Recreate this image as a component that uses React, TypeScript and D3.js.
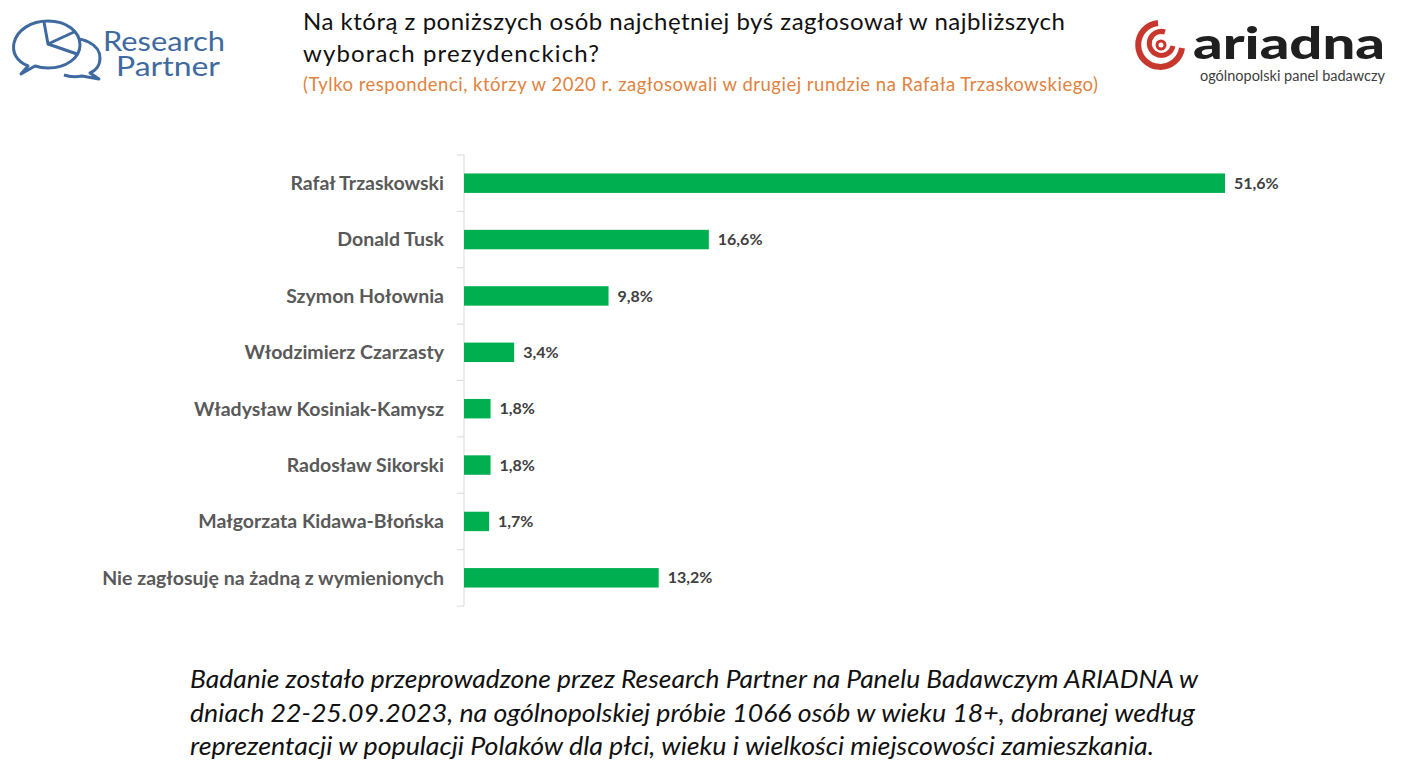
import * as d3 from 'd3';

const candidates = [
  'Rafał Trzaskowski',
  'Donald Tusk',
  'Szymon Hołownia',
  'Włodzimierz Czarzasty',
  'Władysław Kosiniak-Kamysz',
  'Radosław Sikorski',
  'Małgorzata Kidawa-Błońska',
  'Nie zagłosuję na żadną z wymienionych',
];
const shares = [51.6, 16.6, 9.8, 3.4, 1.8, 1.8, 1.7, 13.2];

const titleLines = [
  'Na którą z poniższych osób najchętniej byś zagłosował w najbliższych',
  'wyborach prezydenckich?',
];
const subtitle = '(Tylko respondenci, którzy w 2020 r. zagłosowali w drugiej rundzie na Rafała Trzaskowskiego)';
const footerLines = [
  'Badanie zostało przeprowadzone przez Research Partner na Panelu Badawczym ARIADNA w',
  'dniach 22-25.09.2023, na ogólnopolskiej próbie 1066 osób w wieku 18+, dobranej według',
  'reprezentacji w populacji Polaków dla płci, wieku i wielkości miejscowości zamieszkania.',
];

const data = candidates.map((name, i) => ({ name, value: shares[i] }));

export default function App() {
  const width = 1403;
  const height = 776;
  const axisX = 464;
  const top = 155;
  const bottom = 606;

  const x = d3
    .scaleLinear()
    .domain([0, d3.max(shares) ?? 1])
    .range([axisX, 1225]);
  const y = d3
    .scaleBand<string>()
    .domain(candidates)
    .range([top, bottom])
    .paddingInner(0.655)
    .paddingOuter(0.3275);

  const step = y.step();
  const fmt = (v: number) => `${v.toFixed(1).replace('.', ',')}%`;
  const boundaries = d3.range(candidates.length + 1).map((i) => top + i * step);

  const sans = 'Lato, "Open Sans", sans-serif';
  const footerWidths = [1008, 1005, 964];

  return (
    <svg width={width} height={height} style={{ position: 'absolute', left: 0, top: 0, background: '#fff' }}>
      <rect width={width} height={height} fill="#fff" />

      {/* Research Partner logo */}
      <g fill="#fff" stroke="#3F6AA0" strokeWidth={3} strokeLinejoin="round">
        <path d="M 66 40 C 82 36 100 44 100 58 C 100 66 95 71 90 73 L 99 79 L 82 76 C 76 77 70 77 64 75" />
        <path d="M 28 66 C 16 61 12 52 14 43 C 17 30 31 21 48 21 C 66 21 80 31 80 45 C 80 58 66 68 48 68 C 43 68 38 67 35 66 L 21 74 Z" />
        <path d="M 44 22 L 48 44 L 74 32" fill="none" />
        <path d="M 48 44 L 77 54" fill="none" />
      </g>
      <text x={103} y={51} fontFamily={sans} fontSize={27} fill="#3F6AA0" textLength={122} lengthAdjust="spacingAndGlyphs">
        Research
      </text>
      <text x={116} y={76} fontFamily={sans} fontSize={27} fill="#3F6AA0" textLength={104} lengthAdjust="spacingAndGlyphs">
        Partner
      </text>

      {/* ARIADNA logo */}
      <g fill="none" stroke="#C8372D">
        <path d="M 1158 23 A 22 22 0 1 0 1182 48" strokeWidth={6} />
        <path d="M 1165 32 A 12 12 0 1 0 1173 46" strokeWidth={5} />
        <circle cx={1161} cy={45} r={4} strokeWidth={3} />
      </g>
      <text
        x={1193}
        y={59}
        fontFamily={sans}
        fontSize={43}
        fontWeight={900}
        fill="#1f1f1f"
        textLength={192}
        lengthAdjust="spacingAndGlyphs"
      >
        ariadna
      </text>
      <text x={1200} y={81} fontFamily={sans} fontSize={14.5} fill="#404040" textLength={185}>
        ogólnopolski panel badawczy
      </text>

      {/* Title */}
      {titleLines.map((t, i) => (
        <text
          key={t}
          x={303}
          y={30 + i * 32}
          fontFamily={sans}
          fontSize={24}
          fill="#111"
          textLength={i === 0 ? 762 : 296}
        >
          {t}
        </text>
      ))}
      <text x={303} y={91} fontFamily={sans} fontSize={18.5} fill="#E0833F" textLength={795}>
        {subtitle}
      </text>

      {/* Axis */}
      <line x1={axisX} x2={axisX} y1={top} y2={bottom} stroke="#D9D9D9" />
      {boundaries.map((b, i) => (
        <line key={i} x1={axisX - 7} x2={axisX} y1={b} y2={b} stroke="#D9D9D9" />
      ))}

      {/* Bars */}
      {data.map((d) => {
        const by = y(d.name) ?? 0;
        const cy = by + y.bandwidth() / 2;
        return (
          <g key={d.name}>
            <rect x={x(0)} y={by} width={x(d.value) - x(0)} height={y.bandwidth()} fill="#00AF50" />
            <text
              x={axisX - 20}
              y={cy}
              dy="0.35em"
              textAnchor="end"
              fontFamily={sans}
              fontSize={19.5}
              fontWeight={700}
              fill="#595959"
            >
              {d.name}
            </text>
            <text
              x={x(d.value) + 9}
              y={cy}
              dy="0.35em"
              fontFamily={sans}
              fontSize={16}
              fontWeight={700}
              fill="#404040"
            >
              {fmt(d.value)}
            </text>
          </g>
        );
      })}

      {/* Footer */}
      {footerLines.map((t, i) => (
        <text
          key={t}
          x={190}
          y={688 + i * 33.5}
          fontFamily={sans}
          fontSize={25.5}
          fontStyle="italic"
          fill="#111"
          textLength={footerWidths[i]}
          lengthAdjust="spacingAndGlyphs"
        >
          {t}
        </text>
      ))}
    </svg>
  );
}
